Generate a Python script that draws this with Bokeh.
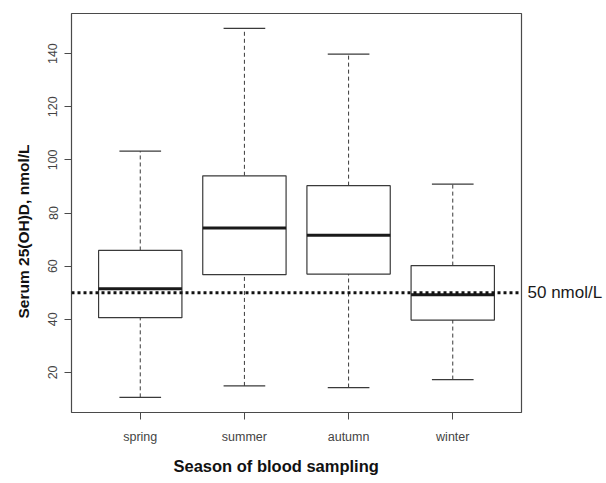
from bokeh.plotting import figure
from bokeh.models import (Range1d, FixedTicker, Span, ColumnDataSource,
                          LinearAxis, Title)
from bokeh.embed import file_html
from bokeh.resources import INLINE

# ---- data ----
seasons = ["spring", "summer", "autumn", "winter"]
whisker_low = [10.6, 14.9, 14.3, 17.3]
q1 = [40.6, 56.8, 57.0, 39.7]
median = [51.5, 74.4, 71.6, 49.2]
q3 = [65.9, 94.0, 90.3, 60.2]
whisker_high = [103.3, 149.5, 139.8, 90.9]
threshold = 50
threshold_label = "50 nmol/L"
y_ticks = [20, 40, 60, 80, 100, 120, 140]
x_title = "Season of blood sampling"
y_title = "Serum 25(OH)D, nmol/L"

# ---- styles ----
BOX_W = 0.8
CAP_W = 0.4
FONT = "Liberation Sans"
LINE = "#3a3a3a"

pos = [i + 1 for i in range(len(seasons))]
src = ColumnDataSource(dict(
    x=pos,
    lo=whisker_low, q1=q1, med=median, q3=q3, hi=whisker_high,
    x0=[x - BOX_W / 2 for x in pos], x1=[x + BOX_W / 2 for x in pos],
    c0=[x - CAP_W / 2 for x in pos], c1=[x + CAP_W / 2 for x in pos],
))

p = figure(width=606, height=483, output_backend="svg", toolbar_location=None,
           x_range=Range1d(0.34, 4.66), y_range=Range1d(4.9, 155.1),
           min_border_left=71, min_border_right=85, min_border_top=13,
           min_border_bottom=69)
p.title.visible = False
p.xgrid.visible = False
p.ygrid.visible = False
p.outline_line_color = "#4a4a4a"
p.outline_line_width = 1.2
p.outline_line_alpha = 1.0
p.background_fill_color = "white"
p.border_fill_color = "white"

# whiskers (dashed)
p.segment(x0="x", y0="q3", x1="x", y1="hi", source=src, line_color=LINE,
          line_width=1, line_dash="4 3")
p.segment(x0="x", y0="lo", x1="x", y1="q1", source=src, line_color=LINE,
          line_width=1, line_dash="4 3")
# caps
p.segment(x0="c0", y0="hi", x1="c1", y1="hi", source=src, line_color=LINE, line_width=1.2)
p.segment(x0="c0", y0="lo", x1="c1", y1="lo", source=src, line_color=LINE, line_width=1.2)
# boxes
p.vbar(x="x", width=BOX_W, bottom="q1", top="q3", source=src,
       fill_color="white", line_color=LINE, line_width=1.2)
# medians
p.segment(x0="x0", y0="med", x1="x1", y1="med", source=src, line_color="#1a1a1a",
          line_width=3, line_cap="butt")

# threshold dotted line
p.add_layout(Span(location=threshold, dimension="width", line_color="#111111",
                  line_width=3, line_dash="3 3"))

# axes
for ax in (p.xaxis[0], p.yaxis[0]):
    ax.axis_line_color = None
    ax.major_tick_in = 0
    ax.major_tick_out = 7
    ax.major_tick_line_color = "#4a4a4a"
    ax.minor_tick_line_color = None
    ax.major_label_text_font = FONT
    ax.major_label_text_font_size = "12.5px"
    ax.major_label_text_color = "#444444"

p.xaxis.ticker = FixedTicker(ticks=pos)
p.xaxis.major_label_overrides = {x: s for x, s in zip(pos, seasons)}
p.xaxis.major_label_standoff = 10

p.yaxis.ticker = FixedTicker(ticks=y_ticks)
p.yaxis.major_label_orientation = "vertical"
p.yaxis.major_label_standoff = 7

# right-hand label for the threshold line
raxis = LinearAxis(ticker=FixedTicker(ticks=[threshold]),
                   major_label_overrides={threshold: threshold_label},
                   axis_line_color=None, major_tick_in=0, major_tick_out=0,
                   minor_tick_line_color=None, major_label_standoff=6,
                   major_label_text_font=FONT, major_label_text_font_size="17px",
                   major_label_text_color="#1a1a1a")
p.add_layout(raxis, "right")

# axis titles (offset like the reference)
p.add_layout(Title(text=x_title, align="left", offset=102, vertical_align="bottom",
                   standoff=17, text_font=FONT, text_font_style="bold",
                   text_font_size="16.5px", text_color="#111111"), "below")
p.add_layout(Title(text=y_title, align="left", offset=94, vertical_align="top",
                   standoff=24, text_font=FONT, text_font_style="bold",
                   text_font_size="15.5px", text_color="#111111"), "left")

open("out.html", "w").write(file_html(p, INLINE))
